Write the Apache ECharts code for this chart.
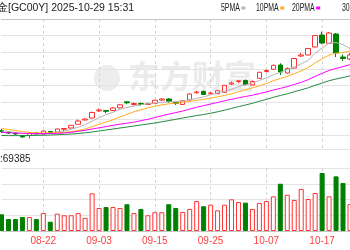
<!DOCTYPE html>
<html><head><meta charset="utf-8">
<script src="https://cdn.jsdelivr.net/npm/echarts@6/dist/echarts.min.js"></script>
<style>html,body{margin:0;padding:0;background:#fff}#c{width:350px;height:250px}</style>
</head><body><div id="c"></div>
<script>
const dates = ['08-14','08-15','08-18','08-19','08-20','08-21','08-22','08-25','08-26','08-27','08-28','08-29',
'09-01','09-02','09-03','09-04','09-05','09-08','09-09','09-10','09-11','09-12','09-15','09-16','09-17','09-18','09-19','09-22','09-23','09-24','09-25','09-26','09-29','09-30',
'10-01','10-02','10-03','10-06','10-07','10-08','10-09','10-10','10-13','10-14','10-15','10-16','10-17','10-20','10-21','10-22','10-23'];
// [open, close, low, high]
const candles = [
[3385,3375,3360,3400],[3370,3360,3350,3380],[3360,3350,3340,3370],[3335,3320,3315,3340],[3335,3360,3305,3365],
[3360,3350,3340,3365],[3350,3380,3345,3385],[3375,3367,3357,3377],[3367,3400,3365,3405],[3397,3405,3375,3408],
[3410,3437,3405,3440],[3447,3480,3442,3495],[3490,3500,3485,3507],[3510,3565,3505,3575],[3582,3590,3570,3605],
[3585,3577,3557,3590],[3585,3610,3580,3620],[3612,3642,3605,3650],[3672,3662,3647,3677],[3645,3655,3635,3665],
[3655,3645,3635,3665],[3645,3653,3637,3663],[3657,3687,3655,3692],[3690,3700,3680,3710],[3700,3675,3663,3707],
[3665,3657,3640,3670],[3645,3683,3640,3687],[3690,3750,3685,3757],[3762,3770,3755,3782],[3777,3745,3740,3785],
[3753,3760,3745,3772],[3753,3783,3750,3790],[3767,3837,3763,3840],[3850,3860,3840,3875],[3875,3882,3860,3885],
[3885,3845,3835,3895],[3840,3875,3835,3885],[3907,3967,3902,3973],[3975,3985,3965,3995],[3997,4037,3992,4045],
[4040,3970,3940,4057],[3960,4005,3955,4015],[4010,4105,4005,4110],[4130,4140,4120,4160],[4140,4205,4135,4210],
[4220,4335,4215,4340],[4340,4260,4250,4373],[4257,4360,4250,4370],[4350,4160,4120,4360],[4120,4105,4080,4145],
[4100,4140,4090,4160]];
const ma5 = [3380,3375,3365,3355,3353,3348,3352,3355,3371,3380,3398,3418,3444,3477,3514,3542,3568,3597,3616,3629,3643,3651,3660,3668,3672,3674,3680,3693,3707,3721,3742,3762,3779,3797,3824,3841,3860,3886,3911,3942,3967,3993,4020,4051,4085,4158,4209,4260,4264,4244,4205];
const ma10 = [3405,3395,3385,3375,3367,3362,3360,3362,3365,3367,3373,3385,3400,3424,3447,3470,3493,3521,3547,3572,3593,3610,3629,3642,3651,3659,3666,3677,3687,3696,3708,3721,3736,3752,3773,3791,3811,3832,3854,3883,3904,3926,3953,3981,4013,4062,4101,4140,4158,4164,4181];
const ma20 = [3365,3362,3360,3357,3355,3354,3354,3355,3357,3360,3367,3377,3387,3400,3412,3424,3437,3448,3458,3469,3483,3497,3514,3533,3549,3564,3580,3599,3617,3634,3650,3665,3682,3697,3712,3725,3738,3755,3771,3790,3806,3824,3845,3867,3893,3927,3956,3986,4006,4024,4043];
const ma30 = [3335,3334,3334,3334,3335,3336,3338,3340,3343,3346,3350,3355,3362,3370,3380,3390,3400,3410,3420,3430,3440,3450,3460,3472,3484,3497,3510,3522,3534,3545,3558,3572,3588,3606,3624,3640,3657,3677,3696,3717,3735,3752,3773,3792,3812,3837,3859,3883,3900,3915,3931];
const volumes = [106000,76000,76000,89000,89000,76000,114000,59000,110000,100000,100000,114000,83000,239000,146000,152000,152000,146000,170000,114000,140000,100000,119000,119000,170000,146000,121000,140000,190000,157000,167000,131000,167000,201000,184000,180000,140000,178000,190000,220000,300000,230000,197000,267000,203000,241000,368000,220000,347000,305000,171000];
const maNames = ['5PMA','10PMA','20PMA','30PMA'];
const titleText = '金[GC00Y] 2025-10-29 15:31';
const volText = ':69385';
const watermark = '东方财富';

const UP = '#ff3232', DOWN = '#008000';
const MA_COLORS = ['#b4b4b4', '#ffae1a', '#ff00ff', '#268a46'];
const FONT = "'Liberation Sans', sans-serif";
const labelEvery = (i) => (i - 6) % 8 === 0;

const chart = echarts.init(document.getElementById('c'), null, {renderer: 'canvas'});
const volData = volumes.map((v, i) => {
  const up = candles[i][1] >= candles[i][0];
  return {value: v, itemStyle: {color: up ? '#ffffff' : DOWN, borderColor: up ? UP : DOWN, borderWidth: 1}};
});

// legend-like header (narrow text, marker right after the name)
const legendX = [221, 256, 292, 342];
const LSCALE = 0.66, LSIZE = 10.5;
const legendGraphics = [];
maNames.forEach((n, k) => {
  const w = echarts.format.getTextRect ? echarts.format.getTextRect(n, LSIZE + 'px ' + FONT).width : n.length * 6.2;
  legendGraphics.push({type: 'text', x: legendX[k], y: 8, scaleX: LSCALE, z: 10,
    style: {text: n, fontSize: LSIZE, fill: '#222', fontFamily: FONT, verticalAlign: 'middle'}});
  legendGraphics.push({type: 'rect', z: 10, shape: {x: legendX[k] + w * LSCALE + 1.5, y: 6.5, width: 4, height: 3},
    style: {fill: MA_COLORS[k]}});
});

chart.setOption({
  animation: false,
  backgroundColor: '#ffffff',
  graphic: [
    {type: 'text', left: -3, top: 3, z: 10, style: {text: titleText, fontSize: 10.5, fill: '#222', fontFamily: FONT}},
    {type: 'text', left: 0, top: 154, z: 10, style: {text: volText, fontSize: 10, fill: '#222', fontFamily: FONT}},
    {type: 'text', left: 128, top: 60, z: -1, silent: true, style: {text: watermark, fontSize: 32, fontWeight: 'bold', fill: '#ebebeb', fontFamily: "'Noto Sans CJK SC', sans-serif"}},
    {type: 'circle', z: -1, silent: true, shape: {cx: 107, cy: 78, r: 13}, style: {fill: '#ededed'}}
  ].concat(legendGraphics),
  grid: [
    {left: 1.5, right: -1.5, top: 19, height: 130},
    {left: 1.5, right: -1.5, top: 168, height: 63}
  ],
  xAxis: [
    {type: 'category', gridIndex: 0, data: dates, boundaryGap: false,
     axisLine: {show: true, lineStyle: {color: '#c4c4c4'}}, axisTick: {show: false}, axisLabel: {show: false},
     splitLine: {show: true, interval: labelEvery, lineStyle: {color: '#d4d4d4', type: [3, 3]}}},
    {type: 'category', gridIndex: 1, data: dates, boundaryGap: false,
     axisLine: {show: true, lineStyle: {color: '#c4c4c4'}}, axisTick: {show: false},
     axisLabel: {interval: labelEvery, color: '#ff4040', fontSize: 10, fontFamily: FONT, margin: 5},
     splitLine: {show: true, interval: labelEvery, lineStyle: {color: '#d4d4d4', type: [3, 3]}}}
  ],
  yAxis: [
    {type: 'value', gridIndex: 0, min: 3200, max: 4500, show: false, splitLine: {show: false}},
    {type: 'value', gridIndex: 0, inverse: true, min: 0, max: 7.8, interval: 1, position: 'right',
     axisLine: {show: false}, axisTick: {show: false}, axisLabel: {show: false},
     splitLine: {show: true, lineStyle: {color: '#e4e4e4'}}},
    {type: 'value', gridIndex: 1, min: 0, max: 400000, interval: 100000,
     axisLine: {show: false}, axisTick: {show: false}, axisLabel: {show: false},
     splitLine: {show: true, lineStyle: {color: '#e4e4e4'}}}
  ],
  series: [
    {type: 'candlestick', name: 'K', xAxisIndex: 0, yAxisIndex: 0, data: candles, barWidth: 5,
     itemStyle: {color: '#ffffff', color0: DOWN, borderColor: UP, borderColor0: DOWN, borderWidth: 1}},
    {type: 'line', name: maNames[0], xAxisIndex: 0, yAxisIndex: 0, data: ma5, showSymbol: false, color: MA_COLORS[0], lineStyle: {width: 1}},
    {type: 'line', name: maNames[1], xAxisIndex: 0, yAxisIndex: 0, data: ma10, showSymbol: false, color: MA_COLORS[1], lineStyle: {width: 1}},
    {type: 'line', name: maNames[2], xAxisIndex: 0, yAxisIndex: 0, data: ma20, showSymbol: false, color: MA_COLORS[2], lineStyle: {width: 1}},
    {type: 'line', name: maNames[3], xAxisIndex: 0, yAxisIndex: 0, data: ma30, showSymbol: false, color: MA_COLORS[3], lineStyle: {width: 1}},
    {type: 'bar', name: 'VOL', xAxisIndex: 1, yAxisIndex: 2, data: volData, barWidth: 5}
  ]
});
</script></body></html>
